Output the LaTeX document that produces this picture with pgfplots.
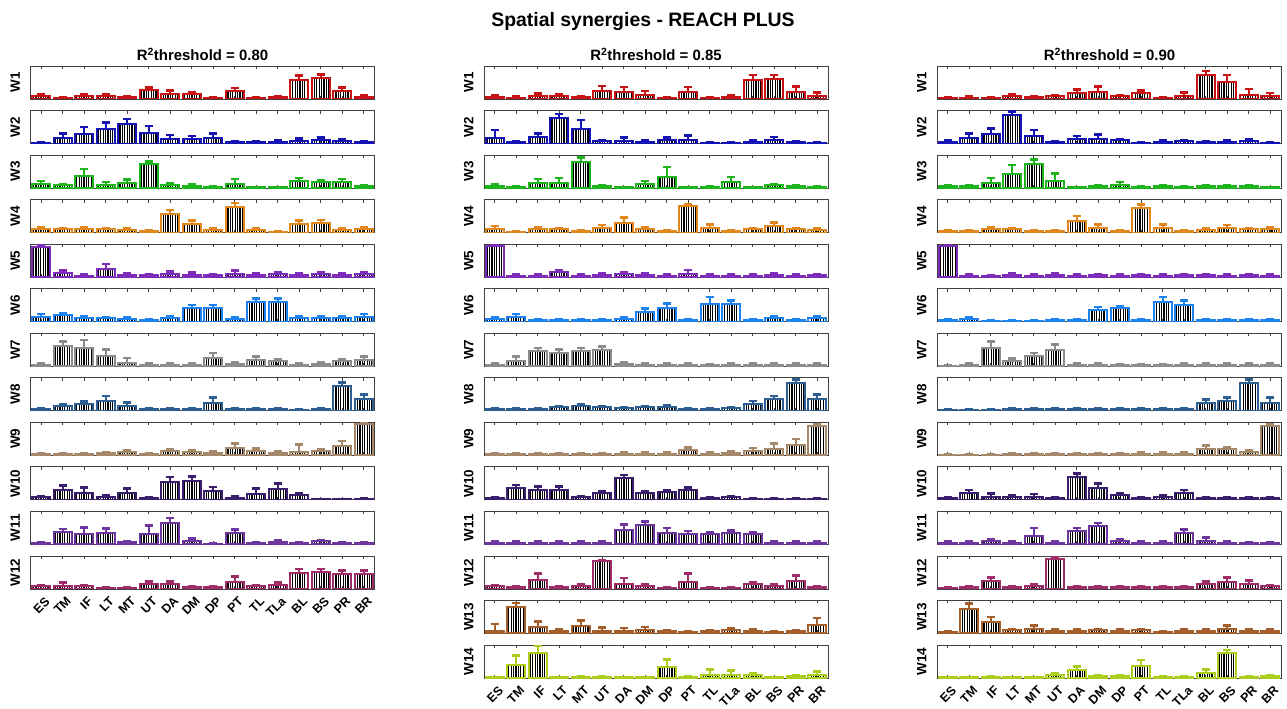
\documentclass[border=0pt]{standalone}
\usepackage{fontspec}
\setmainfont{Liberation Sans}
\usepackage{pgfplots}
\pgfplotsset{compat=1.18}
\usetikzlibrary{patterns.meta}
\definecolor{cA}{RGB}{200,20,20}
\definecolor{cB}{RGB}{20,20,180}
\definecolor{cC}{RGB}{30,180,30}
\definecolor{cD}{RGB}{225,135,30}
\definecolor{cE}{RGB}{125,45,185}
\definecolor{cF}{RGB}{30,130,240}
\definecolor{cG}{RGB}{140,140,140}
\definecolor{cH}{RGB}{45,95,145}
\definecolor{cI}{RGB}{165,135,105}
\definecolor{cJ}{RGB}{60,30,110}
\definecolor{cK}{RGB}{110,55,160}
\definecolor{cL}{RGB}{160,45,105}
\definecolor{cM}{RGB}{165,95,45}
\definecolor{cN}{RGB}{170,205,30}
\pgfplotsset{
  synpanel/.style={width=344bp,height=33bp,scale only axis,anchor=north west,
    xmin=0.5,xmax=16.5,ymin=0,ymax=1,xtick={1,...,16},ytick=\empty,xticklabels={},
    axis line style={draw=black!75,line width=0.8bp},
    tick style={draw=black!75,line width=0.6bp},major tick length=3bp,tick align=inside,
    every axis y label/.style={at={(axis description cs:-0.03,0.5)},anchor=south,rotate=90,
      inner sep=0pt,font=\bfseries\fontsize{13.5}{13.5}\selectfont},
    xticklabel style={yshift=-7bp,xshift=3bp,rotate=45,anchor=north east,inner sep=0pt,
      font=\bfseries\fontsize{12.5}{12.5}\selectfont}},
  catlabels/.style={xticklabels={ES,TM,IF,LT,MT,UT,DA,DM,DP,PT,TL,TLa,BL,BS,PR,BR}},
  synbar/.style={ybar,bar width=0.84,draw=#1,line width=2bp,
    pattern={Lines[angle=90,distance=2.4bp,line width=1.25bp]},pattern color=black,
    error bars/.cd,y dir=plus,y explicit,
    error bar style={draw=#1,line width=2bp},
    error mark options={rotate=90,draw=#1,line width=2.6bp,mark size=4.2bp}}
}
% #1 left edge (bp), #2 row, #3 colour, #4 label, #5 extra axis options, #6 data (mean, sd)
\newcommand{\synpanel}[6]{%
\begin{axis}[synpanel,at={(#1bp,{687.54bp-44.54bp*#2})},ylabel={#4},#5]
\addplot[synbar=#3] table[header=false,row sep=\\,x expr=\coordindex+1,y index=0,y error index=1]{#6};
\end{axis}}
\begin{document}
\begin{tikzpicture}
\fill[white] (0,0) rectangle (1287bp,709bp);
\path[use as bounding box] (0,0) rectangle (1287bp,709bp);
\node[anchor=base,font=\bfseries\fontsize{19.5}{19.5}\selectfont] at (643bp,682bp) {Spatial synergies - REACH PLUS};
\node[anchor=base,font=\bfseries\fontsize{15}{15}\selectfont] at (202.5bp,648bp) {R\textsuperscript{2}threshold = 0.80};
\node[anchor=base,font=\bfseries\fontsize{15}{15}\selectfont] at (656bp,648bp) {R\textsuperscript{2}threshold = 0.85};
\node[anchor=base,font=\bfseries\fontsize{15}{15}\selectfont] at (1109.5bp,648bp) {R\textsuperscript{2}threshold = 0.90};
% ---------------- column 1 : R2 = 0.80
\synpanel{30.5}{1}{cA}{W1}{}{.08 .06\\ .03 .02\\ .08 .05\\ .08 .06\\ .05 .03\\ .28 .06\\ .16 .10\\ .14 .07\\ .03 .02\\ .24 .09\\ .04 .02\\ .05 .03\\ .58 .14\\ .63 .11\\ .23 .12\\ .06 .04\\}
\synpanel{30.5}{2}{cB}{W2}{}{.03 .01\\ .17 .14\\ .30 .20\\ .44 .19\\ .59 .15\\ .33 .20\\ .14 .12\\ .14 .09\\ .16 .15\\ .05 .03\\ .04 .02\\ .06 .03\\ .08 .08\\ .10 .08\\ .08 .05\\ .05 .03\\}
\synpanel{30.5}{3}{cC}{W3}{}{.13 .08\\ .08 .04\\ .37 .21\\ .10 .08\\ .14 .12\\ .74 .06\\ .08 .06\\ .07 .04\\ .03 .02\\ .11 .17\\ .02 .01\\ .02 .01\\ .20 .11\\ .18 .07\\ .18 .10\\ .05 .03\\}
\synpanel{30.5}{4}{cD}{W4}{}{.10 .05\\ .10 .04\\ .10 .05\\ .10 .04\\ .08 .04\\ .05 .03\\ .56 .12\\ .25 .12\\ .08 .04\\ .78 .12\\ .08 .04\\ .03 .02\\ .25 .12\\ .28 .10\\ .08 .04\\ .10 .05\\}
\synpanel{30.5}{5}{cE}{W5}{}{.90 .07\\ .12 .08\\ .05 .03\\ .25 .15\\ .08 .04\\ .06 .03\\ .10 .08\\ .08 .06\\ .06 .03\\ .10 .10\\ .08 .04\\ .10 .05\\ .08 .04\\ .10 .05\\ .08 .04\\ .10 .05\\}
\synpanel{30.5}{6}{cF}{W6}{}{.15 .08\\ .20 .05\\ .12 .05\\ .10 .04\\ .08 .04\\ .04 .02\\ .10 .05\\ .40 .10\\ .40 .10\\ .08 .05\\ .60 .10\\ .60 .10\\ .10 .05\\ .10 .05\\ .10 .05\\ .15 .08\\}
\synpanel{30.5}{7}{cG}{W7}{}{.05 .03\\ .60 .15\\ .55 .25\\ .30 .20\\ .10 .15\\ .05 .03\\ .05 .03\\ .05 .03\\ .25 .15\\ .08 .04\\ .20 .10\\ .15 .05\\ .05 .03\\ .08 .04\\ .15 .05\\ .20 .10\\}
\synpanel{30.5}{8}{cH}{W8}{}{.05 .03\\ .15 .06\\ .20 .08\\ .30 .15\\ .15 .10\\ .05 .03\\ .05 .03\\ .05 .03\\ .25 .15\\ .05 .03\\ .05 .03\\ .05 .03\\ .03 .02\\ .05 .03\\ .75 .10\\ .35 .15\\}
\synpanel{30.5}{9}{cI}{W9}{}{.04 .02\\ .04 .02\\ .04 .02\\ .06 .03\\ .10 .04\\ .03 .02\\ .12 .06\\ .10 .05\\ .08 .04\\ .23 .12\\ .12 .08\\ .08 .04\\ .10 .22\\ .12 .06\\ .29 .14\\ .95 .05\\}
\synpanel{30.5}{10}{cJ}{W10}{}{.08 .04\\ .29 .15\\ .20 .18\\ .08 .06\\ .20 .15\\ .06 .02\\ .54 .15\\ .58 .12\\ .27 .12\\ .06 .04\\ .19 .15\\ .33 .17\\ .15 .06\\ .02 .01\\ .02 .01\\ .03 .02\\}
\synpanel{30.5}{11}{cK}{W11}{}{.03 .02\\ .37 .10\\ .33 .19\\ .36 .13\\ .08 .02\\ .32 .26\\ .66 .14\\ .10 .08\\ .02 .01\\ .34 .12\\ .03 .02\\ .06 .06\\ .04 .02\\ .10 .03\\ .03 .02\\ .03 .02\\}
\synpanel{30.5}{12}{cL}{W12}{catlabels}{.08 .03\\ .10 .10\\ .08 .03\\ .03 .02\\ .03 .02\\ .15 .08\\ .15 .08\\ .05 .02\\ .06 .03\\ .22 .16\\ .08 .02\\ .12 .08\\ .47 .14\\ .50 .11\\ .46 .10\\ .45 .10\\}
% ---------------- column 2 : R2 = 0.85
\synpanel{484}{1}{cA}{W1}{}{.05 .05\\ .04 .03\\ .10 .06\\ .08 .06\\ .05 .04\\ .24 .15\\ .21 .15\\ .13 .11\\ .03 .02\\ .21 .15\\ .04 .02\\ .06 .06\\ .57 .16\\ .60 .13\\ .20 .17\\ .10 .10\\}
\synpanel{484}{2}{cB}{W2}{}{.18 .23\\ .05 .02\\ .20 .11\\ .77 .13\\ .43 .28\\ .08 .02\\ .08 .10\\ .05 .04\\ .10 .08\\ .10 .15\\ .02 .01\\ .02 .01\\ .05 .04\\ .12 .08\\ .04 .03\\ .02 .01\\}
\synpanel{484}{3}{cC}{W3}{}{.07 .03\\ .04 .02\\ .15 .13\\ .16 .15\\ .78 .14\\ .05 .03\\ .02 .01\\ .12 .09\\ .35 .29\\ .02 .01\\ .04 .02\\ .17 .16\\ .02 .01\\ .08 .04\\ .05 .03\\ .04 .02\\}
\synpanel{484}{4}{cD}{W4}{}{.10 .10\\ .02 .01\\ .10 .05\\ .10 .04\\ .05 .03\\ .15 .08\\ .30 .15\\ .12 .05\\ .05 .03\\ .80 .05\\ .15 .10\\ .05 .03\\ .10 .04\\ .20 .10\\ .10 .04\\ .08 .04\\}
\synpanel{484}{5}{cE}{W5}{}{.95 .05\\ .05 .03\\ .05 .03\\ .15 .05\\ .05 .03\\ .08 .04\\ .10 .05\\ .08 .04\\ .05 .03\\ .10 .12\\ .05 .03\\ .05 .03\\ .05 .03\\ .08 .04\\ .05 .03\\ .06 .03\\}
\synpanel{484}{6}{cF}{W6}{}{.08 .04\\ .15 .08\\ .05 .03\\ .05 .03\\ .05 .03\\ .05 .03\\ .08 .04\\ .30 .10\\ .40 .15\\ .05 .03\\ .55 .20\\ .55 .10\\ .05 .03\\ .10 .05\\ .05 .03\\ .10 .05\\}
\synpanel{484}{7}{cG}{W7}{}{.05 .03\\ .15 .15\\ .45 .10\\ .40 .10\\ .45 .10\\ .50 .10\\ .08 .04\\ .05 .03\\ .05 .03\\ .05 .03\\ .03 .02\\ .05 .03\\ .05 .03\\ .05 .03\\ .05 .03\\ .05 .03\\}
\synpanel{484}{8}{cH}{W8}{}{.05 .03\\ .05 .03\\ .05 .03\\ .10 .04\\ .15 .05\\ .10 .04\\ .08 .04\\ .10 .04\\ .12 .05\\ .05 .03\\ .05 .03\\ .08 .04\\ .20 .10\\ .35 .10\\ .85 .10\\ .35 .15\\}
\synpanel{484}{9}{cI}{W9}{}{.03 .02\\ .03 .02\\ .03 .02\\ .03 .02\\ .03 .02\\ .03 .02\\ .05 .03\\ .05 .03\\ .05 .03\\ .15 .08\\ .05 .03\\ .08 .04\\ .12 .10\\ .20 .15\\ .30 .20\\ .90 .05\\}
\synpanel{484}{10}{cJ}{W10}{}{.05 .03\\ .35 .10\\ .30 .10\\ .30 .10\\ .08 .04\\ .20 .05\\ .65 .10\\ .20 .05\\ .25 .05\\ .30 .08\\ .05 .03\\ .08 .04\\ .03 .02\\ .03 .02\\ .03 .02\\ .03 .02\\}
\synpanel{484}{11}{cK}{W11}{}{.05 .03\\ .05 .03\\ .05 .03\\ .05 .03\\ .05 .03\\ .05 .03\\ .45 .15\\ .60 .10\\ .35 .15\\ .30 .10\\ .30 .08\\ .35 .08\\ .30 .08\\ .05 .03\\ .05 .03\\ .05 .03\\}
\synpanel{484}{12}{cL}{W12}{}{.08 .04\\ .05 .02\\ .28 .18\\ .06 .03\\ .10 .04\\ .84 .04\\ .16 .17\\ .10 .05\\ .03 .02\\ .22 .24\\ .03 .02\\ .03 .02\\ .15 .05\\ .10 .04\\ .23 .17\\ .06 .02\\}
\synpanel{484}{13}{cM}{W13}{}{.08 .21\\ .81 .11\\ .19 .18\\ .08 .06\\ .22 .18\\ .08 .10\\ .08 .08\\ .10 .10\\ .08 .02\\ .05 .01\\ .08 .03\\ .10 .07\\ .08 .05\\ .05 .02\\ .08 .02\\ .25 .22\\}
\synpanel{484}{14}{cN}{W14}{catlabels}{.02 .01\\ .38 .30\\ .75 .23\\ .02 .01\\ .04 .02\\ .03 .02\\ .02 .01\\ .02 .01\\ .32 .25\\ .04 .01\\ .10 .15\\ .10 .12\\ .08 .05\\ .02 .01\\ .06 .02\\ .10 .10\\}
% ---------------- column 3 : R2 = 0.90
\synpanel{937}{1}{cA}{W1}{}{.04 .02\\ .04 .03\\ .04 .02\\ .08 .06\\ .06 .03\\ .08 .04\\ .18 .10\\ .20 .17\\ .08 .04\\ .18 .08\\ .04 .02\\ .10 .10\\ .72 .13\\ .52 .21\\ .13 .17\\ .10 .08\\}
\synpanel{937}{2}{cB}{W2}{}{.06 .04\\ .17 .13\\ .28 .18\\ .87 .10\\ .24 .17\\ .04 .02\\ .14 .09\\ .14 .13\\ .10 .04\\ .02 .01\\ .06 .03\\ .08 .03\\ .05 .03\\ .06 .04\\ .08 .04\\ .03 .02\\}
\synpanel{937}{3}{cC}{W3}{}{.05 .02\\ .05 .02\\ .16 .14\\ .44 .26\\ .73 .13\\ .22 .23\\ .02 .01\\ .05 .02\\ .10 .08\\ .04 .02\\ .06 .03\\ .04 .02\\ .06 .03\\ .05 .03\\ .05 .03\\ .02 .01\\}
\synpanel{937}{4}{cD}{W4}{}{.05 .03\\ .05 .03\\ .10 .05\\ .10 .04\\ .05 .03\\ .05 .03\\ .35 .15\\ .15 .10\\ .05 .03\\ .75 .10\\ .15 .10\\ .05 .03\\ .08 .04\\ .15 .08\\ .10 .04\\ .12 .05\\}
\synpanel{937}{5}{cE}{W5}{}{.95 .05\\ .05 .03\\ .03 .02\\ .08 .04\\ .05 .03\\ .08 .04\\ .05 .03\\ .06 .03\\ .05 .03\\ .06 .03\\ .05 .03\\ .06 .03\\ .06 .03\\ .05 .03\\ .06 .03\\ .05 .03\\}
\synpanel{937}{6}{cF}{W6}{}{.05 .03\\ .08 .05\\ .02 .01\\ .03 .02\\ .03 .02\\ .05 .03\\ .05 .03\\ .35 .10\\ .40 .08\\ .05 .03\\ .60 .15\\ .50 .15\\ .05 .03\\ .05 .03\\ .05 .03\\ .05 .03\\}
\synpanel{937}{7}{cG}{W7}{}{.02 .01\\ .05 .03\\ .55 .20\\ .15 .08\\ .30 .10\\ .50 .15\\ .05 .03\\ .05 .03\\ .03 .02\\ .03 .02\\ .03 .02\\ .05 .03\\ .05 .03\\ .05 .03\\ .05 .03\\ .05 .03\\}
\synpanel{937}{8}{cH}{W8}{}{.03 .02\\ .03 .02\\ .03 .02\\ .05 .03\\ .05 .03\\ .05 .03\\ .05 .03\\ .05 .03\\ .05 .03\\ .05 .03\\ .05 .03\\ .05 .03\\ .25 .10\\ .30 .10\\ .85 .10\\ .25 .15\\}
\synpanel{937}{9}{cI}{W9}{}{.02 .01\\ .02 .01\\ .02 .01\\ .03 .02\\ .03 .02\\ .03 .02\\ .04 .02\\ .03 .02\\ .04 .02\\ .05 .03\\ .05 .03\\ .05 .03\\ .20 .10\\ .20 .05\\ .10 .05\\ .90 .05\\}
\synpanel{937}{10}{cJ}{W10}{}{.05 .03\\ .20 .10\\ .10 .10\\ .10 .04\\ .08 .10\\ .05 .03\\ .70 .10\\ .35 .15\\ .15 .05\\ .05 .03\\ .10 .04\\ .20 .10\\ .05 .03\\ .05 .03\\ .05 .03\\ .05 .03\\}
\synpanel{937}{11}{cK}{W11}{}{.05 .03\\ .05 .03\\ .10 .04\\ .05 .03\\ .25 .25\\ .05 .03\\ .40 .10\\ .55 .10\\ .10 .04\\ .05 .03\\ .05 .03\\ .35 .10\\ .10 .10\\ .05 .03\\ .03 .02\\ .03 .02\\}
\synpanel{937}{12}{cL}{W12}{}{.03 .02\\ .05 .03\\ .25 .10\\ .05 .03\\ .10 .04\\ .90 .05\\ .05 .03\\ .05 .03\\ .05 .03\\ .05 .03\\ .05 .03\\ .05 .03\\ .15 .08\\ .20 .15\\ .15 .10\\ .08 .04\\}
\synpanel{937}{13}{cM}{W13}{}{.05 .03\\ .75 .15\\ .35 .15\\ .10 .04\\ .15 .10\\ .08 .04\\ .08 .04\\ .10 .04\\ .08 .04\\ .10 .04\\ .05 .03\\ .08 .04\\ .08 .04\\ .15 .10\\ .08 .04\\ .08 .04\\}
\synpanel{937}{14}{cN}{W14}{catlabels}{.02 .01\\ .02 .01\\ .03 .02\\ .02 .01\\ .02 .01\\ .10 .05\\ .25 .10\\ .05 .03\\ .05 .03\\ .35 .20\\ .03 .02\\ .03 .02\\ .15 .10\\ .75 .10\\ .03 .02\\ .05 .03\\}
\end{tikzpicture}
\end{document}
